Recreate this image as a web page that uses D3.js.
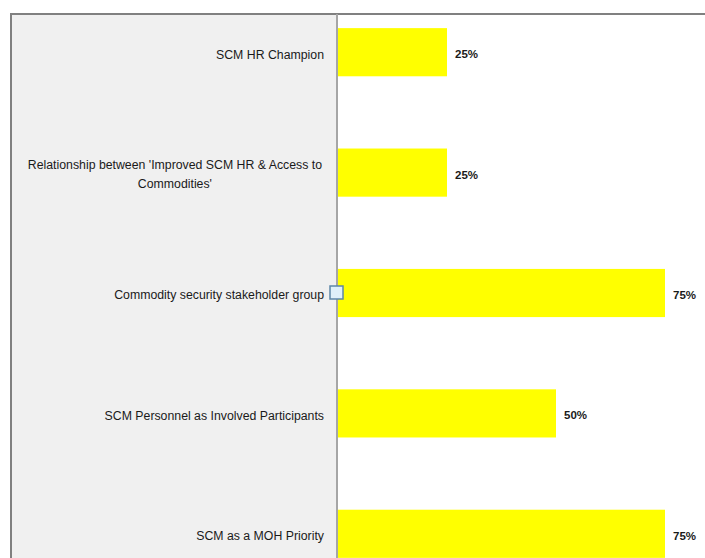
<!DOCTYPE html>
<html>
<head>
<meta charset="utf-8">
<script src="https://cdn.jsdelivr.net/npm/d3@7"></script>
<style>
  html, body { margin: 0; padding: 0; background: #ffffff; }
  svg { display: block; }
  .cat-label { font-family: "Liberation Sans", Arial, sans-serif; font-size: 12.3px; fill: #1a1a1a; }
  .val-label { font-family: "Liberation Sans", Arial, sans-serif; font-size: 11.5px; font-weight: bold; fill: #1a1a1a; }
</style>
</head>
<body>
<div id="chart"></div>
<script>
// categories, top to bottom
const categories = [
  "SCM HR Champion",
  "Relationship between 'Improved SCM HR & Access to|Commodities'",
  "Commodity security stakeholder group",
  "SCM Personnel as Involved Participants",
  "SCM as a MOH Priority"
];
const values = [0.25, 0.25, 0.75, 0.50, 0.75];

const width = 705;
const height = 558;

// the plot is cropped: 100% lies past the right edge of the window
const plot = { left: 338, right: 774, top: -8, bottom: 594 };

const svg = d3.select("#chart")
  .append("svg")
  .attr("width", width)
  .attr("height", height);

// label panel (grey box on the left)
svg.append("rect")
  .attr("x", 11)
  .attr("y", 14)
  .attr("width", plot.left - 12)
  .attr("height", height)
  .attr("fill", "#f0f0f0");

// outer border: top and left
svg.append("path")
  .attr("d", `M11,${height} V14 H${width}`)
  .attr("fill", "none")
  .attr("stroke", "#808080")
  .attr("stroke-width", 2);

const x = d3.scaleLinear()
  .domain([0, 1])
  .range([plot.left, plot.right]);

const y = d3.scaleBand()
  .domain(categories)
  .range([plot.top, plot.bottom])
  .paddingInner(0.6)
  .paddingOuter(0.3);

// bars
svg.append("g")
  .selectAll("rect")
  .data(categories)
  .enter()
  .append("rect")
  .attr("x", x(0))
  .attr("y", d => y(d))
  .attr("height", y.bandwidth())
  .attr("width", (d, i) => x(values[i]) - x(0))
  .attr("fill", "#ffff00");

// axis line
svg.append("line")
  .attr("x1", plot.left - 1)
  .attr("x2", plot.left - 1)
  .attr("y1", 14)
  .attr("y2", height)
  .attr("stroke", "#a6a6a6")
  .attr("stroke-width", 2);

// value labels
svg.append("g")
  .selectAll("text")
  .data(categories)
  .enter()
  .append("text")
  .attr("class", "val-label")
  .attr("x", (d, i) => x(values[i]) + 8)
  .attr("y", d => y(d) + y.bandwidth() / 2 + 2)
  .attr("dy", "0.35em")
  .text((d, i) => d3.format(".0%")(values[i]));

// category labels, right aligned; wrapped lines are centred on each other
const labels = svg.append("g")
  .selectAll("text")
  .data(categories)
  .enter()
  .append("text")
  .attr("class", "cat-label");

labels.each(function (d) {
  const lines = d.split("|");
  const text = d3.select(this);
  const cy = y(d) + y.bandwidth() / 2 + 2;
  const lh = 19;
  if (lines.length === 1) {
    text.attr("text-anchor", "end")
      .attr("x", 324)
      .attr("y", cy)
      .attr("dy", "0.35em")
      .text(lines[0]);
  } else {
    text.attr("text-anchor", "middle");
    const spans = lines.map((line, i) => text.append("tspan")
      .attr("y", cy + (i - (lines.length - 1) / 2) * lh)
      .attr("dy", "0.35em")
      .text(line));
    const w = d3.max(spans, s => s.node().getComputedTextLength());
    spans.forEach(s => s.attr("x", 322 - w / 2));
  }
});

// small selection handle on the axis
svg.append("rect")
  .attr("x", plot.left - 8)
  .attr("y", y(categories[2]) + y.bandwidth() / 2 - 7)
  .attr("width", 13)
  .attr("height", 13)
  .attr("fill", "#dff0fa")
  .attr("stroke", "#5d87a8")
  .attr("stroke-width", 1.5);
</script>
</body>
</html>
